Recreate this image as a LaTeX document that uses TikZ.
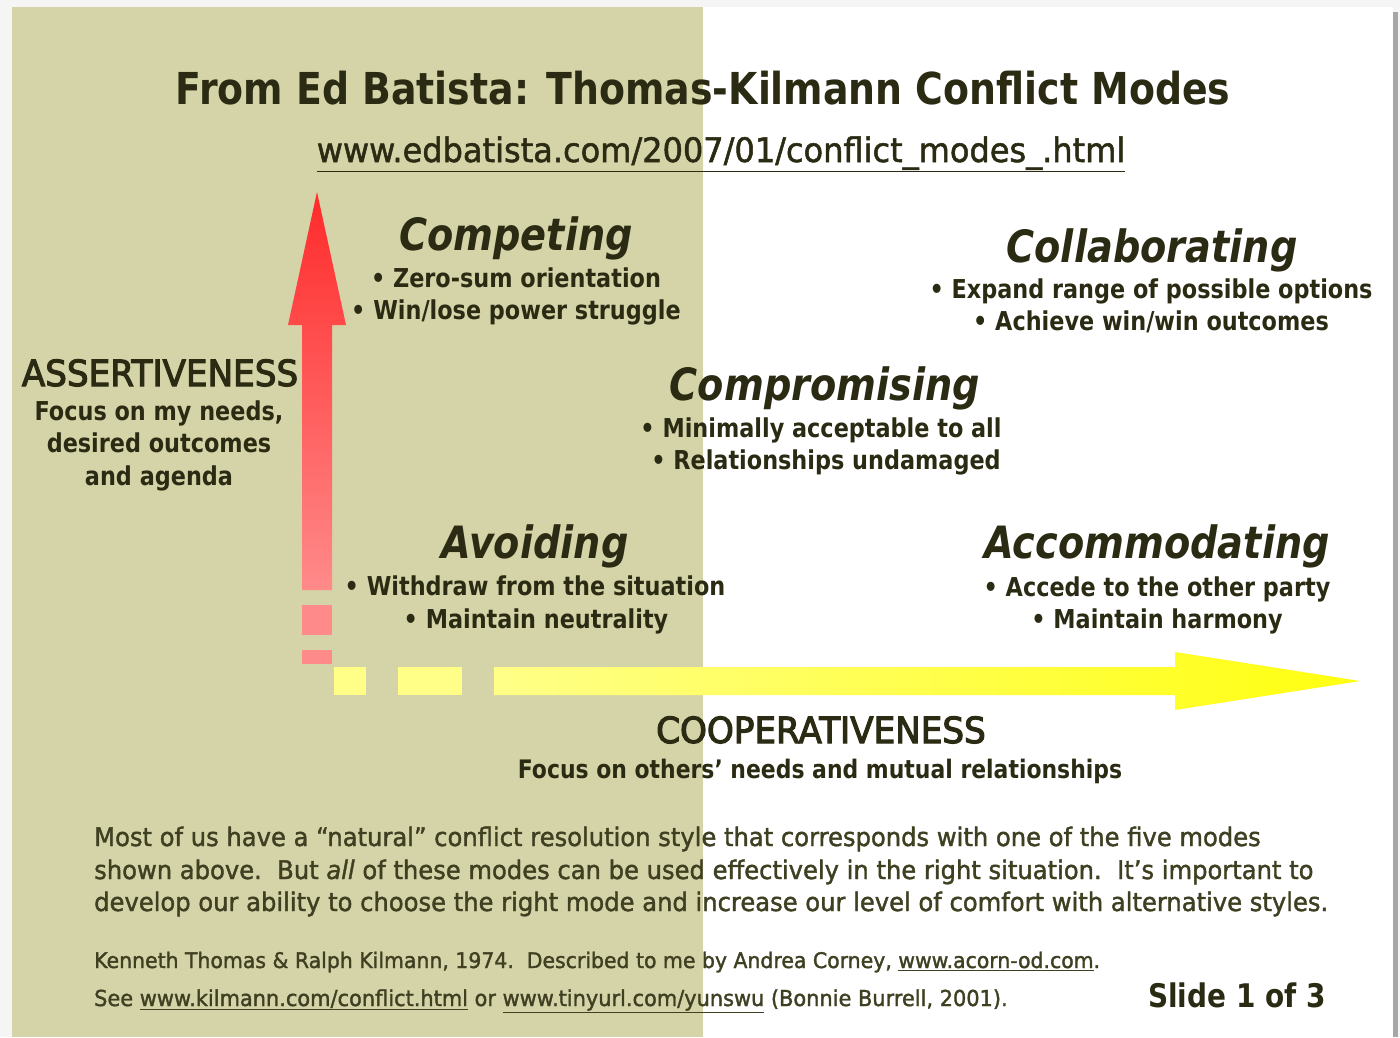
\documentclass[tikz,border=0pt]{standalone}
\usepackage{fontspec}
\setmainfont{DejaVu Sans}[FakeStretch=0.86]
\newfontfamily\plainfont{DejaVu Sans}[FakeStretch=0.95, FakeBold=1.5]
\newfontfamily\axisfont{DejaVu Sans}[FakeStretch=0.95, FakeBold=3]
\usetikzlibrary{calc}
\definecolor{panel}{HTML}{D5D4A8}
\definecolor{ink}{HTML}{2B2B14}
\definecolor{softink}{HTML}{3F3F22}
\definecolor{redtop}{HTML}{FF2A2A}
\definecolor{redbot}{HTML}{FF8A8A}
\definecolor{yelpale}{HTML}{FFFF88}
\definecolor{yelfull}{HTML}{FFFF10}
\tikzset{
  txt/.style={inner sep=0pt, anchor=base, text=ink},
  modetitle/.style={txt, font=\fontsize{44.5}{52}\selectfont\bfseries\itshape},
  bullet/.style={txt, font=\fontsize{26}{32}\selectfont\bfseries},
  axistitle/.style={txt, font=\axisfont\fontsize{36}{42}\selectfont},
  body/.style={txt, anchor=base west, text=softink, font=\plainfont\fontsize{25.5}{32}\selectfont},
  small/.style={txt, anchor=base west, text=softink, font=\plainfont\fontsize{21.5}{26}\selectfont}
}
\newcommand{\ul}[1]{\underline{#1}}
\begin{document}
\begin{tikzpicture}[x=1pt,y=-1pt]
\useasboundingbox (0,0) rectangle (1400,1037);
% page surround and slide
\fill[gray!8] (0,0) rectangle (1400,1037);
\fill[white] (12,7) rectangle (1393,1037);
\fill[panel] (12,7) rectangle (703,1037);
\fill[gray!70] (1393,12) rectangle (1398,1037);

% titles
\node[txt, font=\fontsize{44}{52}\selectfont\bfseries] (title) at (703,104) {From Ed Batista: Thomas-Kilmann Conflict Modes};
\node[txt, font=\plainfont\fontsize{33.7}{40}\selectfont] (url) at (721,162) {\ul{www.edbatista.com/2007/01/conflict\_modes\_.html}};

% vertical axis arrow
\shade[top color=redtop, bottom color=redbot]
  (302,590) -- (302,325) -- (288,325) -- (317,192) -- (346,325) -- (332,325) -- (332,590) -- cycle;
\fill[redbot] (302,605) rectangle (332,635);
\fill[redbot] (302,650) rectangle (332,664);

% horizontal axis arrow
\fill[yelpale] (334,667) rectangle (366,695);
\fill[yelpale] (398,667) rectangle (462,695);
\shade[left color=yelpale, right color=yelfull]
  (494,667) -- (1175,667) -- (1175,652) -- (1360,681) -- (1175,710) -- (1175,695) -- (494,695) -- cycle;

% modes
\node[modetitle] (competing) at (516,250) {Competing};
\node[bullet] (comp1) at (516,287) {• Zero-sum orientation};
\node[bullet] (comp2) at (516,319) {• Win/lose power struggle};

\node[modetitle] (collab) at (1152,262) {Collaborating};
\node[bullet] (coll1) at (1151,298) {• Expand range of possible options};
\node[bullet] (coll2) at (1151,330) {• Achieve win/win outcomes};

\node[modetitle] (compro) at (825,400) {Compromising};
\node[bullet] (cpr1) at (821,437) {• Minimally acceptable to all};
\node[bullet] (cpr2) at (826,469) {• Relationships undamaged};

\node[modetitle] (avoid) at (535,558) {Avoiding};
\node[bullet] (av1) at (535,595) {• Withdraw from the situation};
\node[bullet] (av2) at (536,628) {• Maintain neutrality};

\node[modetitle] (accom) at (1157,558) {Accommodating};
\node[bullet] (ac1) at (1157,596) {• Accede to the other party};
\node[bullet] (ac2) at (1157,628) {• Maintain harmony};

% axis labels
\node[axistitle] (assert) at (160,386) {ASSERTIVENESS};
\node[bullet] (as1) at (159,420) {Focus on my needs,};
\node[bullet] (as2) at (159,452) {desired outcomes};
\node[bullet] (as3) at (159,485) {and agenda};

\node[axistitle] (coop) at (821,743) {COOPERATIVENESS};
\node[bullet, font=\fontsize{25.5}{32}\selectfont\bfseries] (coop1) at (820,778) {Focus on others’ needs and mutual relationships};

% closing remarks
\node[body] (p1) at (94,846) {Most of us have a “natural” conflict resolution style that corresponds with one of the five modes};
\node[body] (p2) at (94,879) {shown above.\ \ But \textit{all} of these modes can be used effectively in the right situation.\ \ It’s important to};
\node[body] (p3) at (94,911) {develop our ability to choose the right mode and increase our level of comfort with alternative styles.};

\node[small] (ref1) at (94,968) {Kenneth Thomas \& Ralph Kilmann, 1974.\ \ Described to me by Andrea Corney, \ul{www.acorn-od.com}.};
\node[small, font=\plainfont\fontsize{22}{26}\selectfont] (ref2) at (94,1006) {See \ul{www.kilmann.com/conflict.html} or \ul{www.tinyurl.com/yunswu} (Bonnie Burrell, 2001).};

\node[txt, anchor=base east, font=\fontsize{32.5}{38}\selectfont\bfseries] (slide) at (1326,1007) {Slide 1 of 3};
\end{tikzpicture}
\end{document}
